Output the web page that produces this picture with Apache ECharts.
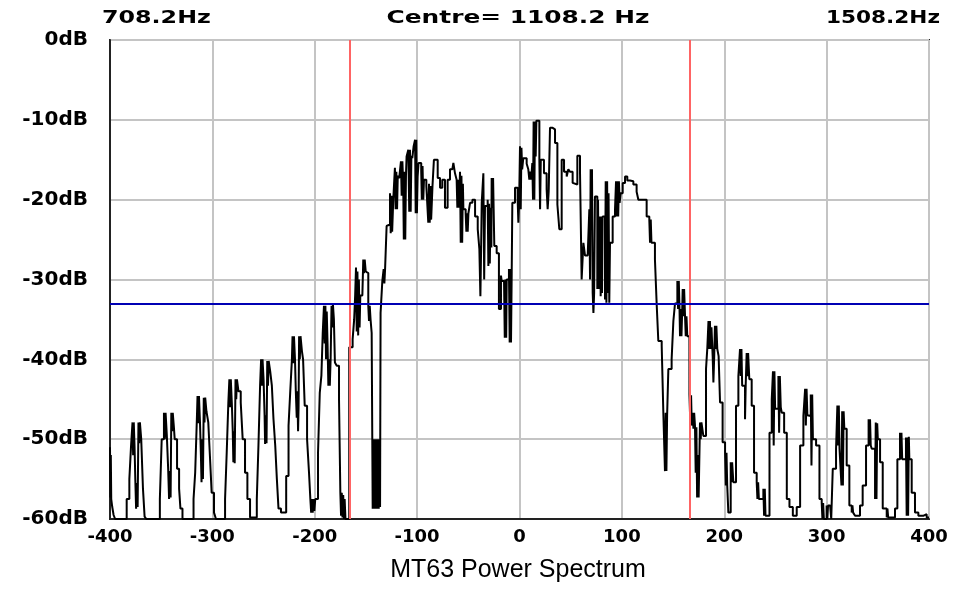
<!DOCTYPE html>
<html>
<head>
<meta charset="utf-8">
<script src="https://cdn.jsdelivr.net/npm/echarts@6/dist/echarts.min.js"></script>
<style>
html,body{margin:0;padding:0;background:#fff;}
#chart{width:956px;height:590px;}
</style>
</head>
<body>
<div id="chart"></div>
<script>
// ---- data (Hz offset from centre, level in dB) ----
const leftSidelobes = [
[-400,-51],[-399.6,-57.3],[-399.2,-52],[-398.8,-57.5],[-397.8,-58.5],[-396.5,-59.5],[-395,-60],
[-383.7,-57.5],[-381.1,-55],[-379.5,-51],[-378,-47.9],[-377.4,-52],[-376.8,-47.9],[-376,-51],[-375.3,-55],[-374.5,-58.7],[-373.8,-55.5],[-373,-58.5],[-372.2,-47.9],[-371.5,-50.5],[-370.8,-47.9],[-369.5,-50],[-367.8,-56.2],[-366.2,-59.7],[-364.5,-60],
[-351.3,-57.5],[-349.5,-50],[-347.3,-46.7],[-346.5,-50],[-345.7,-46.7],[-344.5,-49.5],[-343.2,-53.7],[-342.3,-57.5],[-341.6,-54],[-340.8,-57.3],[-340.1,-46.7],[-339.4,-49],[-338.7,-46.7],[-337.6,-48.5],[-336.8,-50],[-334.5,-53.7],[-332.5,-56.2],[-331.2,-58.7],[-329.2,-60],
[-318.4,-57.5],[-316.8,-54.2],[-315.2,-47.7],[-314.5,-44.6],[-313.8,-48],[-313.1,-44.6],[-312.1,-47.9],[-311.2,-52],[-310.6,-55.4],[-309.9,-50],[-309.2,-55],[-308.4,-44.8],[-307.7,-47.9],[-307,-44.8],[-305.8,-46.5],[-304,-47.9],[-302.4,-52.1],[-300.7,-56.7],[-298.4,-59.2],[-296.5,-60],
[-287.6,-57.5],[-286,-51.7],[-284.4,-45.4],[-283.4,-42.5],[-282.7,-46],[-282,-42.5],[-281,-45.5],[-280.1,-49],[-279.5,-52.9],[-278.8,-49],[-278.2,-53],[-277.4,-42.5],[-276.7,-45],[-276,-42.5],[-274.5,-44],[-272.3,-45.4],[-270.4,-50],[-268.1,-54.2],[-265.8,-57.5],[-263.2,-59.8],
[-256.6,-57.5],[-255,-50.8],[-253.4,-43.3],[-252.4,-40],[-251.7,-43.3],[-251,-40],[-250,-42.5],[-249,-47],[-248.5,-50.6],[-247.8,-47],[-247.1,-50.5],[-246.4,-40.2],[-245.7,-43.3],[-245,-40.2],[-243.5,-41.5],[-241.9,-43.3],[-240.3,-47.5],[-238.6,-50.8],[-237,-55],[-235.4,-58.7],[-233,-59.2],
[-227.9,-54.6],[-225.6,-48.3],[-224,-44.2],[-222.3,-40],[-221.7,-37.1],[-221,-40.5],[-220.3,-37.1],[-219.3,-40],[-218.5,-44],[-217.6,-47.3],[-217,-44],[-216.3,-49],[-215.8,-46],[-215.3,-37.1],[-214.6,-40],[-213.9,-37.1],[-212.5,-39],[-211.4,-40],[-209.8,-45.8],[-207.5,-50],[-205.6,-54.2],[-204.3,-57.5],[-203.5,-59.2],[-202.8,-57.5],[-202,-59.2],[-201.2,-57.5],[-200.4,-59],[-199.5,-57.5],
[-196.8,-51.7],[-195.1,-44.2],[-193.5,-42],[-192.2,-36.7],[-191,-33.3],[-190.3,-38],[-189.6,-33.3],[-189,-40],[-188.3,-34],[-187.5,-38],[-186.7,-43.3],[-186,-40],[-185.3,-43.3],[-184.5,-40],[-183.6,-33.3],[-182.9,-36],[-182.2,-33.2],[-181.3,-35],[-180.3,-40.4],[-178.5,-40.8],[-176.3,-45],[-175,-56.7],[-174.3,-59.6],[-173.6,-56.7],[-172.9,-59.8],[-172.2,-57],[-171.5,-60],[-170.8,-57.5],[-170,-60]
];

const mainBand = [
[-166.3,-38.5],[-163,-37.5],[-161.5,-35],[-160.5,-31.9],[-159.7,-28.5],[-159,-36.5],[-158.3,-29],[-157.6,-37],[-156.9,-30],[-156.2,-36],[-155.5,-32],[-153.5,-32.2],[-152.6,-27.5],[-151.9,-29.2],[-151.2,-27.5],[-150.2,-29],[-149.3,-29.2],[-147.7,-33.3],[-147,-35.2],[-146.3,-33.3],[-145.5,-35],[-144.4,-36.7],
[-143.4,-58.7],[-142.7,-50],[-142,-58.7],[-141.3,-50],[-140.5,-58.7],[-139.8,-50],[-138.9,-58.7],[-138.2,-50],[-137.5,-58.7],[-136.8,-50],[-136.2,-58.5],[-135.7,-34.2],[-134,-30.2],[-132.7,-28.7],[-132,-30.5],[-131.3,-28.7],
[-129.8,-23.3],[-128.2,-23.1],[-126.5,-19.2],[-125.8,-24.2],[-125.1,-19.5],[-124.4,-24],[-123.3,-20],[-121.7,-16],[-121,-21.2],[-120.3,-16.5],[-119.6,-21.2],[-118.9,-17],[-117.5,-17.3],[-115.8,-15.2],[-115.1,-19.5],[-114.4,-15.2],[-113.6,-18],[-113,-25],[-112.3,-16.5],[-111.6,-25],[-110.9,-17],[-110.3,-14.6],[-108.6,-13.75],[-107.7,-21.5],[-107,-13.75],[-106.3,-21.5],[-105.6,-14.5],[-104.7,-14.8],[-103.4,-13.3],[-102,-12.5],[-101.4,-21.7],[-100.8,-12.5],[-100.2,-21.7],[-99.5,-17.1],[-98.6,-15.4],
[-96,-16.5],[-95.4,-20],[-94.7,-15.8],[-94,-20],[-93.3,-17.5],[-91,-18.3],[-89.1,-22.9],[-88.4,-18],[-87.7,-22.9],[-87,-18.3],[-86.3,-22.5],[-85,-18.3],[-83.6,-15],[-79.9,-17.3],[-77.6,-18.5],[-75.4,-17.5],[-72.8,-21],[-70.2,-17.5],[-67.9,-16.2],[-65.6,-16],[-64.6,-15.4],[-63,-16.7],[-61.4,-17.5],[-60.7,-21],[-60,-17.5],[-59.3,-21],[-58.1,-16.5],[-57.4,-25.4],[-56.7,-17],[-56,-25.4],[-55.3,-18],[-54.8,-21.2],[-52.6,-21.7],[-51.9,-24],[-51.2,-21.7],[-50.6,-24],[-49.9,-21.7],[-48.3,-20.4],[-46,-20],[-43.4,-22.1],[-40.8,-23.7],[-39.2,-26.2],[-38.2,-32.1],[-37.5,-26.2],[-36.9,-20.4],[-35.3,-16.7],[-34.5,-30],[-33.7,-20.8],[-31.1,-20],[-30.4,-28.3],[-29.7,-20.5],[-29,-28],[-28.3,-21],[-27.5,-26],[-27.2,-17.3],[-26.5,-21],[-25.8,-17.3],[-24.6,-25.8],[-22.3,-26.7],[-20.1,-33.7],[-18.1,-29.5],[-17.4,-30.2],[-15.1,-30],[-14.4,-37.3],[-13.7,-30],[-13,-37.3],[-12.5,-30],[-10.3,-28.7],[-9.6,-37.9],[-8.9,-28.7],[-8.3,-37.9],[-7.6,-29],[-7,-20.4],[-4.4,-18.5],[-1.8,-20],[-1.1,-22.9],[-0.4,-20.5],
[0.5,-13.3],[1.2,-21.2],[1.9,-13.5],[2.6,-16.2],[3.7,-14.8],[7,-15.5],[8.6,-16.2],[9.6,-17.5],[10.5,-16.5],[11.4,-17.5],[12.5,-15.4],[13.2,-20],[13.8,-10.2],[14.5,-20],[15.1,-10.2],[15.8,-14.6],[16.5,-10.1],[19.4,-15],[20.1,-21.2],[20.8,-15],[21.6,-15],[23.9,-16.7],[26.5,-18.7],[27.5,-21.2],[28.5,-19],[29.8,-11],[32.4,-11.2],[34.7,-12.9],[37,-20.6],[38.9,-23.7],[41.2,-15],[43.5,-16.5],[46.1,-17.1],[47.7,-16.2],[49.3,-16.5],[51.9,-17.9],[53.2,-18.1],[56.5,-14.5],[59.1,-16.5],[60.7,-30],[62.4,-25.4],[64,-27],[66.6,-27.1],[68.2,-21.2],[68.9,-30],[69.5,-16.2],[70.2,-20],[70.8,-16.2],[71.5,-31.7],[72.2,-34.2],[72.9,-31.7],[73.7,-19.6],[76,-31.2],[76.7,-20],[77.4,-31.2],[78.6,-22.1],[79.3,-32.1],[80,-22.1],[80.6,-31.7],[81.2,-22.1],[83.5,-32.5],[84.2,-17.7],[84.9,-32.9],[85.6,-17.7],[86.3,-31.7],[87,-19.2],[87.7,-32.9],[88.4,-25.4],[91,-22.1],[93.3,-21.2],[94.3,-17.7],[95,-22.1],[95.7,-17.7],[96.4,-22.1],[97.1,-17.7],[97.8,-20.4],[98.8,-19.2],[100.8,-17.9],[103.1,-17.1],[105.3,-17.6],[107.9,-17.7],[111.2,-18.1],[114.4,-19],[116.1,-20],[124.2,-22.1],[126.8,-22.5],[127.5,-25.4],[128.2,-22.5],[128.9,-25.4],[130.1,-25.4],[132.3,-27.5],[134,-33.1],[135.6,-37.7],[138.9,-38.3],[140.5,-46.7],[142.1,-54],[142.8,-46.7],[143.5,-54],[144.2,-47],[145.4,-41.2],[148.6,-40],[150.3,-35.2],[151.9,-33],[154.2,-30.2],[154.9,-33.7],[155.6,-30.2],[156.3,-33.7],[156.8,-37.1],[157.5,-33.7],[158.2,-37.1],[158.9,-34],[159.4,-31.2],[160.1,-34.6],[160.8,-31.2],[161.7,-34.6],[162.4,-37.1],[163.1,-34.6],[163.9,-37.1]
];

const rightSidelobes = [
[166,-44.4],[166.9,-48.3],[167.6,-44.5],[168.3,-48.3],[169.2,-46.7],[169.9,-48.7],[170.6,-46.7],[171.4,-48.3],[172.1,-54.2],[172.8,-48.5],[173.5,-57.3],[174.2,-52],[175,-57.3],[176.3,-47.9],[177,-50],[177.7,-47.9],[179.6,-49.6],
[182.2,-41.2],[183.5,-38.5],[184.6,-35.2],[185.3,-38.7],[186,-35.2],[186.8,-38.7],[187.5,-36],[188.7,-39.6],[189.4,-42.9],[190.2,-39.6],[190.9,-35.8],[191.6,-38.7],[192.3,-35.8],[193.2,-38.7],[194.5,-39.6],[195.9,-45.4],[198.4,-50.4],[200.8,-51.7],[201.5,-55.8],[202.2,-51.7],[202.9,-55.8],[204,-59.2],[206.3,-52.9],[207,-55.4],[207.7,-52.9],[208.9,-55.4],
[211.5,-45.8],[213.8,-42.1],[215.4,-38.7],[216.1,-42.1],[216.8,-38.7],[217.5,-43.3],[218.8,-43.3],[220.3,-47.5],[221,-43],[221.9,-39.2],[222.6,-42.1],[223.3,-39.2],[224.5,-42.5],[226.8,-45.8],[229.1,-54.2],[231.7,-55.4],[232.4,-57.5],[233.1,-55.4],[233.8,-57.5],[234.9,-57.5],[238.2,-56.2],[238.9,-59.6],[239.6,-56.2],[240.3,-59.6],[241,-59.6],
[244.2,-49.2],[246.4,-45],[247.6,-41.5],[248.3,-50.8],[249,-41.5],[249.7,-46.2],[252.9,-42.1],[253.6,-49.2],[254.3,-42.1],[255.2,-46],[256.2,-46.7],[258.5,-49.2],[261.1,-57.5],[263.7,-58.5],[267,-59.6],[270.8,-58.5],
[274.1,-50.8],[277.3,-47.1],[279,-43.7],[279.7,-48.3],[280.4,-43.7],[281.2,-47],[282.2,-47.1],[284.5,-44.4],[285.2,-53.3],[285.9,-44.4],[286.6,-50],[287.1,-50],[289.7,-50.8],[293,-57.5],[295.2,-58],[295.9,-60],[296.6,-58],[297.3,-60],[298.5,-60],[300,-58.3],[300.7,-60],[301.4,-58.3],[303.4,-58.3],[304.5,-60],
[306,-53.7],[309.2,-51.2],[310.5,-45.8],[311.2,-50.8],[311.9,-45.8],[312.6,-51.2],[314.5,-55.8],[315.2,-46.5],[315.9,-55.8],[316.6,-46.5],[317.3,-48.7],[319.6,-53.3],[322.2,-58.3],[324.5,-59.2],[325.2,-58.3],[325.9,-59.2],[327.8,-59.6],[332.6,-58.3],
[335.2,-55.8],[338.5,-50.8],[341,-47.5],[341.7,-50.8],[342.4,-47.5],[343.1,-50.8],[344.1,-51.2],[347.3,-57.5],[348,-47.9],[348.7,-57.5],[349.4,-48],[350,-50],[352.2,-52.9],[354.8,-58.7],[358.7,-59.8],[359.4,-58.7],[360.1,-59.8],[361.9,-59.8],[366.8,-58.7],
[369.1,-52.5],[371.7,-49.2],[372.4,-52.5],[373.1,-49.2],[373.8,-52.5],[374.9,-52.5],[377.5,-49.8],[378.2,-59.6],[378.9,-49.8],[379.6,-59.6],[380.3,-49.7],[380.8,-52.5],[383.1,-56.7],[386.3,-59.2],[389.6,-59.6],[394.4,-59.4],[397.7,-59.8],[400,-59.8]
];

const bandEdgesHz = [-166, 166];
const thresholdDb = -33;
const topLabels = ['708.2Hz', 'Centre= 1108.2 Hz', '1508.2Hz'];
const chartTitle = 'MT63 Power Spectrum';

// ---- chart ----
const spectrum = leftSidelobes.concat(mainBand, rightSidelobes);
const labelFont = "'DejaVu Sans', sans-serif";
const topFont = "bold 18px 'DejaVu Sans'";
const chart = echarts.init(document.getElementById('chart'), null, {renderer: 'canvas'});
chart.setOption({
  animation: false,
  backgroundColor: '#ffffff',
  grid: {left: 110, right: 27, top: 40, bottom: 71, show: true, borderColor: '#222', borderWidth: 2, backgroundColor: 'transparent'},
  xAxis: {
    type: 'value', min: -400, max: 400, interval: 100,
    axisLine: {show: true, onZero: false, lineStyle: {color: '#222', width: 2}},
    axisTick: {show: false},
    splitLine: {show: true, lineStyle: {color: '#c4c4c4', width: 2}},
    axisLabel: {color: '#000', fontFamily: labelFont, fontWeight: 'bold', fontSize: 18, margin: 9, showMinLabel: true, showMaxLabel: true}
  },
  yAxis: {
    type: 'value', min: -60, max: 0, interval: 10,
    axisLine: {show: true, onZero: false, lineStyle: {color: '#222', width: 2}},
    axisTick: {show: false},
    splitLine: {show: true, lineStyle: {color: '#c4c4c4', width: 2}},
    axisLabel: {color: '#000', fontFamily: labelFont, fontWeight: 'bold', fontSize: 20, margin: 22, formatter: v => v + 'dB'}
  },
  graphic: [
    {type: 'text', x: 102, y: 18, scaleX: 1.32, style: {text: topLabels[0], font: topFont, fill: '#000', align: 'left', verticalAlign: 'middle'}},
    {type: 'text', x: 518, y: 18, scaleX: 1.38, style: {text: topLabels[1], font: topFont, fill: '#000', align: 'center', verticalAlign: 'middle'}},
    {type: 'text', x: 940, y: 18, scaleX: 1.2, style: {text: topLabels[2], font: topFont, fill: '#000', align: 'right', verticalAlign: 'middle'}},
    {type: 'text', x: 518, y: 570, style: {text: chartTitle, font: "25px 'Liberation Sans', Arial, sans-serif", fill: '#000', align: 'center', verticalAlign: 'middle'}}
  ],
  series: [
    {
      type: 'line', step: 'end', data: spectrum, showSymbol: false, symbol: 'none',
      lineStyle: {color: '#000', width: 2}, z: 3, clip: true
    },
    {
      type: 'line', data: [], z: 4,
      markLine: {
        silent: true, symbol: 'none', label: {show: false}, animation: false,
        data: [
          {xAxis: bandEdgesHz[0], lineStyle: {color: '#ff6464', width: 2, type: 'solid'}},
          {xAxis: bandEdgesHz[1], lineStyle: {color: '#ff6464', width: 2, type: 'solid'}},
          {yAxis: thresholdDb, lineStyle: {color: '#0000b4', width: 2, type: 'solid'}}
        ]
      }
    }
  ]
});
</script>
</body>
</html>
